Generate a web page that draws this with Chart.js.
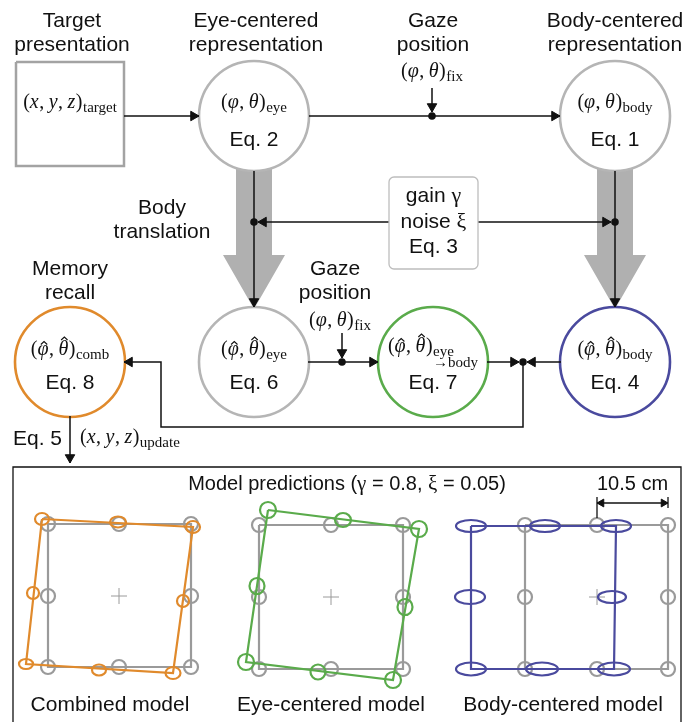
<!DOCTYPE html>
<html>
<head>
<meta charset="utf-8">
<script src="https://cdn.jsdelivr.net/npm/chart.js@4.4.0/dist/chart.umd.min.js"></script>
<style>
  html, body { margin: 0; padding: 0; background: #fff; }
  #diagram { display: block; }
</style>
</head>
<body>
<canvas id="diagram" width="700" height="722"></canvas>
<script>
// ---- diagram data (page coordinates, y grows downward) ----

// flow-chart nodes: centre x / centre y, equation number shown inside
const nodeX = [254, 615, 254, 70, 433, 615];
const nodeY = [116, 116, 362, 362, 362, 362];
const nodeEq = ["Eq. 2", "Eq. 1", "Eq. 6", "Eq. 8", "Eq. 7", "Eq. 4"];

// two-line headings
const headLines = [
  ["Target", "presentation"],
  ["Eye-centered", "representation"],
  ["Gaze", "position"],
  ["Body-centered", "representation"],
  ["Body", "translation"],
  ["Memory", "recall"],
  ["Gaze", "position"],
];
const headX = [72, 256, 433, 615, 162, 70, 335];
const headY = [27, 27, 27, 27, 214, 275, 275];

// math labels: variables, subscript, hats, stacked second subscript
const mathVars = [
  ["x", "y", "z"], ["φ", "θ"], ["φ", "θ"], ["φ", "θ"], ["φ", "θ"],
  ["φ", "θ"], ["φ", "θ"], ["φ", "θ"], ["φ", "θ"], ["x", "y", "z"],
];
const mathSub = ["target", "eye", "fix", "body", "eye", "comb", "fix", "eye", "body", "update"];
const mathHat = [false, false, false, false, true, true, false, true, true, false];
const mathUnder = ["", "", "", "", "", "", "", "→body", "", ""];
const mathX = [70, 254, 432, 615, 254, 70, 340, 433, 615, 80];
const mathY = [108, 108, 77, 108, 355, 355, 326, 352, 355, 443];

// connector polylines and arrow tips [x, y, direction deg: 0 up, 90 right, 180 down, 270 left]
const wires = [
  [[124, 116], [199, 116]],
  [[309, 116], [560, 116]],
  [[432, 88], [432, 112]],
  [[254, 171], [254, 307]],
  [[615, 171], [615, 307]],
  [[389, 222], [258, 222]],
  [[478, 222], [611, 222]],
  [[342, 333], [342, 358]],
  [[308, 362], [378, 362]],
  [[487, 362], [519, 362]],
  [[561, 362], [527, 362]],
  [[523, 362], [523, 427], [161, 427], [161, 362], [124, 362]],
  [[70, 416], [70, 463]],
];
const arrowTips = [
  [199, 116, 90], [560, 116, 90], [432, 112, 180], [254, 307, 180], [615, 307, 180],
  [258, 222, 270], [611, 222, 90], [342, 358, 180], [378, 362, 90], [519, 362, 90],
  [527, 362, 270], [124, 362, 270], [70, 463, 180],
];
const junctionX = [432, 254, 615, 342, 523];
const junctionY = [116, 222, 222, 362, 362];

// broad grey "body translation" arrows
const broadArrows = [
  [[236, 160], [272, 160], [272, 255], [285, 255], [254, 309], [223, 255], [236, 255], [236, 160]],
  [[597, 160], [633, 160], [633, 255], [646, 255], [615, 309], [584, 255], [597, 255], [597, 160]],
];
const targetBox = [[16, 62], [124, 62], [124, 166], [16, 166], [16, 62]];
const paramBox = [389, 177, 478, 269];
const paramLines = [["gain ", "γ"], ["noise ", "ξ"], ["Eq. 3", ""]];
const paramY = [202, 228, 253];

// bottom panel: target grid per model (columns / rows)
const gridCols = [[48, 119, 191], [259, 331, 403], [525, 597, 668]];
const gridRows = [[524, 596, 667], [525, 597, 669], [525, 597, 669]];
const panelNames = ["Combined model", "Eye-centered model", "Body-centered model"];
const panelNameX = [110, 331, 563];

// predicted positions, order TL, TM, TR, MR, BR, BM, BL, ML (centre, radii of error ellipse)
const combX = [42, 118, 193, 183, 173, 99, 26, 33];
const combY = [519, 522, 527, 601, 673, 670, 664, 593];
const combRX = [7, 8, 7, 6, 7.5, 7, 7, 6];
const combRY = [6, 5.5, 6, 6, 6, 5.5, 5, 6];

const eyeX = [268, 343, 419, 405, 393, 318, 246, 257];
const eyeY = [510, 520, 529, 607, 680, 672, 662, 586];
const eyeRX = [8, 8, 8, 7.5, 8, 7.5, 8, 7.5];
const eyeRY = [8, 7, 8, 8, 8, 7.5, 8, 8];

const bodyX = [471, 545, 616, 612, 614, 542, 471, 470];
const bodyY = [526, 526, 526, 597, 669, 669, 669, 597];
const bodyRX = [15, 15, 15, 14, 16, 16, 15, 15];
const bodyRY = [6, 6, 6, 6, 6.5, 6.5, 6.5, 7];

const scaleBar = [597, 668, 503];

// ---- styles ----
const INK = "#111";
const RING_GRAY = "#b5b5b5";
const GRID_GRAY = "#9a9a9a";
const BROAD_GRAY = "#b0b0b0";
const ORANGE = "#e08a2c";
const GREEN = "#5aab4b";
const BLUE = "#4a4a9e";
const nodeColors = [RING_GRAY, RING_GRAY, RING_GRAY, ORANGE, GREEN, BLUE];
const SANS = '"Liberation Sans", Arial, Helvetica, sans-serif';
const SERIF = '"Liberation Serif", "Times New Roman", serif';
const MATH = 20;
const MATH_SUB = 15;

// ---- datasets ----
const datasets = [];

function toPoints(list) {
  return list.map((p) => ({ x: p[0], y: p[1] }));
}

function addPath(list, color, width, order, extra) {
  datasets.push(
    Object.assign(
      {
        data: toPoints(list),
        borderColor: color,
        borderWidth: width,
        pointRadius: 0,
        fill: false,
        tension: 0,
        clip: false,
        order: order,
      },
      extra || {}
    )
  );
}

broadArrows.forEach((poly) =>
  addPath(poly, BROAD_GRAY, 0, 20, { fill: "shape", backgroundColor: BROAD_GRAY })
);
addPath(targetBox, "#a3a3a3", 2.5, 19);

datasets.push({
  data: nodeX.map((x, i) => ({ x, y: nodeY[i] })),
  showLine: false,
  pointRadius: 55,
  pointBorderWidth: 2.6,
  pointBackgroundColor: "#fff",
  pointBorderColor: nodeColors,
  clip: false,
  order: 18,
});

// grey target grids
gridCols.forEach((cols, p) => {
  const rows = gridRows[p];
  addPath(
    [[cols[0], rows[0]], [cols[2], rows[0]], [cols[2], rows[2]], [cols[0], rows[2]], [cols[0], rows[0]]],
    GRID_GRAY, 2.2, 17
  );
  const ring = [];
  rows.forEach((y, r) =>
    cols.forEach((x, c) => {
      if (r !== 1 || c !== 1) ring.push({ x, y });
    })
  );
  datasets.push({
    data: ring,
    showLine: false,
    pointRadius: 7,
    pointBorderWidth: 2.2,
    pointBorderColor: GRID_GRAY,
    pointBackgroundColor: "rgba(0,0,0,0)",
    clip: false,
    order: 16,
  });
  datasets.push({
    data: [{ x: cols[1], y: rows[1] }],
    showLine: false,
    pointStyle: "cross",
    pointRadius: 8,
    pointBorderWidth: 1,
    pointBorderColor: GRID_GRAY,
    clip: false,
    order: 16,
  });
});

// predicted outlines (corners TL, TR, BR, BL)
[[combX, combY, ORANGE], [eyeX, eyeY, GREEN], [bodyX, bodyY, BLUE]].forEach(([xs, ys, col]) => {
  const c = [0, 2, 4, 6, 0];
  addPath(c.map((k) => [xs[k], ys[k]]), col, 2.2, 15);
});

// wires and frame
wires.forEach((w) => addPath(w, INK, 1.5, 10));
addPath([[13, 730], [13, 467], [681, 467], [681, 730]], INK, 1.3, 10);
addPath([[scaleBar[0], 497], [scaleBar[0], 518]], INK, 1.3, 10);
addPath([[scaleBar[1], 497], [scaleBar[1], 508]], INK, 1.3, 10);
addPath([[scaleBar[0], scaleBar[2]], [scaleBar[1], scaleBar[2]]], INK, 1.3, 10);

function arrowSet(tips, r) {
  const rad = (d) => (d * Math.PI) / 180;
  return {
    data: tips.map((t) => ({
      x: t[0] - Math.sin(rad(t[2])) * r,
      y: t[1] + Math.cos(rad(t[2])) * r,
    })),
    showLine: false,
    pointStyle: "triangle",
    pointRadius: r,
    pointRotation: tips.map((t) => t[2]),
    pointBackgroundColor: INK,
    pointBorderColor: INK,
    pointBorderWidth: 1,
    clip: false,
    order: 5,
  };
}
datasets.push(arrowSet(arrowTips, 5.5));
datasets.push(
  arrowSet([[scaleBar[0], scaleBar[2], 270], [scaleBar[1], scaleBar[2], 90]], 4.5)
);

datasets.push({
  data: junctionX.map((x, i) => ({ x, y: junctionY[i] })),
  showLine: false,
  pointRadius: 3.8,
  pointBackgroundColor: INK,
  pointBorderColor: INK,
  pointBorderWidth: 0,
  clip: false,
  order: 4,
});

// ---- text helpers ----
function runFont(r) {
  return (r.i ? "italic " : "") + (r.s || 21) + "px " + (r.f === "sans" ? SANS : SERIF);
}

function drawRuns(ctx, runs, x, y, align) {
  const widths = runs.map((r) => {
    ctx.font = runFont(r);
    let w = ctx.measureText(r.t).width;
    if (r.under) w = Math.max(w, ctx.measureText(r.under).width);
    return w + (r.g || 0);
  });
  const total = widths.reduce((a, b) => a + b, 0);
  let cx = align === "left" ? x : align === "right" ? x - total : x - total / 2;
  ctx.textAlign = "left";
  ctx.textBaseline = "alphabetic";
  runs.forEach((r, k) => {
    ctx.font = runFont(r);
    const by = y + (r.dy || 0);
    ctx.fillText(r.t, cx, by);
    if (r.under) ctx.fillText(r.under, cx, by + 11);
    if (r.hat) {
      const w = ctx.measureText(r.t).width;
      const hx = cx + w * 0.6;
      const hy = by - r.hat;
      ctx.save();
      ctx.lineWidth = 1.1;
      ctx.strokeStyle = INK;
      ctx.beginPath();
      ctx.moveTo(hx - 3.2, hy + 3);
      ctx.lineTo(hx, hy);
      ctx.lineTo(hx + 3.2, hy + 3);
      ctx.stroke();
      ctx.restore();
    }
    cx += widths[k];
  });
}

function mathRuns(k) {
  const runs = [{ t: "(", s: MATH }];
  mathVars[k].forEach((v, j) => {
    const hat = mathHat[k] ? (v === "θ" ? 18 : 13.5) : 0;
    runs.push({ t: v, i: true, s: MATH, hat: hat, g: 0.5 });
    if (j < mathVars[k].length - 1) runs.push({ t: ",", s: MATH, g: 4.5 });
  });
  runs.push({ t: ")", s: MATH, g: 0.5 });
  runs.push({ t: mathSub[k], s: MATH_SUB, dy: 4, under: mathUnder[k] || undefined });
  return runs;
}

function ellipses(ctx, sx, sy, xs, ys, rxs, rys, color) {
  ctx.save();
  ctx.strokeStyle = color;
  ctx.lineWidth = 2.2;
  xs.forEach((x, i) => {
    const cx = sx.getPixelForValue(x);
    const cy = sy.getPixelForValue(ys[i]);
    const rx = Math.abs(sx.getPixelForValue(x + rxs[i]) - cx);
    const ry = Math.abs(sy.getPixelForValue(ys[i] + rys[i]) - cy);
    ctx.beginPath();
    ctx.ellipse(cx, cy, rx, ry, 0, 0, Math.PI * 2);
    ctx.stroke();
  });
  ctx.restore();
}

const diagramPlugin = {
  id: "diagramText",
  afterDatasetsDraw(chart) {
    const ctx = chart.ctx;
    const sx = chart.scales.x;
    const sy = chart.scales.y;
    const X = (v) => sx.getPixelForValue(v);
    const Y = (v) => sy.getPixelForValue(v);

    ellipses(ctx, sx, sy, combX, combY, combRX, combRY, ORANGE);
    ellipses(ctx, sx, sy, eyeX, eyeY, eyeRX, eyeRY, GREEN);
    ellipses(ctx, sx, sy, bodyX, bodyY, bodyRX, bodyRY, BLUE);

    // parameter box
    ctx.save();
    ctx.fillStyle = "#fff";
    ctx.strokeStyle = "#bdbdbd";
    ctx.lineWidth = 1.3;
    ctx.beginPath();
    ctx.roundRect(X(paramBox[0]), Y(paramBox[1]), X(paramBox[2]) - X(paramBox[0]), Y(paramBox[3]) - Y(paramBox[1]), 5);
    ctx.fill();
    ctx.stroke();
    ctx.restore();

    ctx.save();
    ctx.fillStyle = INK;
    const midBox = (paramBox[0] + paramBox[2]) / 2;
    paramLines.forEach((pl, i) => {
      drawRuns(ctx, [{ t: pl[0], f: "sans", s: 21 }, { t: pl[1], s: 22 }], X(midBox), Y(paramY[i]), "center");
    });

    headLines.forEach((lines, i) => {
      lines.forEach((t, j) => {
        drawRuns(ctx, [{ t, f: "sans", s: 21 }], X(headX[i]), Y(headY[i] + j * 24), "center");
      });
    });

    nodeEq.forEach((t, i) => {
      const base = nodeY[i] < 200 ? 146 : 389;
      drawRuns(ctx, [{ t, f: "sans", s: 21 }], X(nodeX[i]), Y(base), "center");
    });

    mathSub.forEach((s, k) => {
      drawRuns(ctx, mathRuns(k), X(mathX[k]), Y(mathY[k]), k === mathSub.length - 1 ? "left" : "center");
    });
    drawRuns(ctx, [{ t: "Eq. 5", f: "sans", s: 21 }], X(62), Y(445), "right");

    drawRuns(
      ctx,
      [
        { t: "Model predictions (", f: "sans", s: 20 },
        { t: "γ", s: 21 },
        { t: " = 0.8, ", f: "sans", s: 20 },
        { t: "ξ", s: 21 },
        { t: " = 0.05)", f: "sans", s: 20 },
      ],
      X(347), Y(490), "center"
    );
    drawRuns(ctx, [{ t: "10.5 cm", f: "sans", s: 20 }], X((scaleBar[0] + scaleBar[1]) / 2), Y(490), "center");

    panelNames.forEach((t, i) => {
      drawRuns(ctx, [{ t, f: "sans", s: 21 }], X(panelNameX[i]), Y(711), "center");
    });
    ctx.restore();
  },
};

new Chart(document.getElementById("diagram"), {
  type: "line",
  data: { datasets },
  options: {
    responsive: false,
    animation: false,
    events: [],
    layout: { padding: 0, autoPadding: false },
    scales: {
      x: { type: "linear", min: 0, max: 700, display: false },
      y: { type: "linear", min: 0, max: 722, reverse: true, display: false },
    },
    plugins: { legend: { display: false }, tooltip: { enabled: false } },
  },
  plugins: [diagramPlugin],
});
</script>
</body>
</html>
